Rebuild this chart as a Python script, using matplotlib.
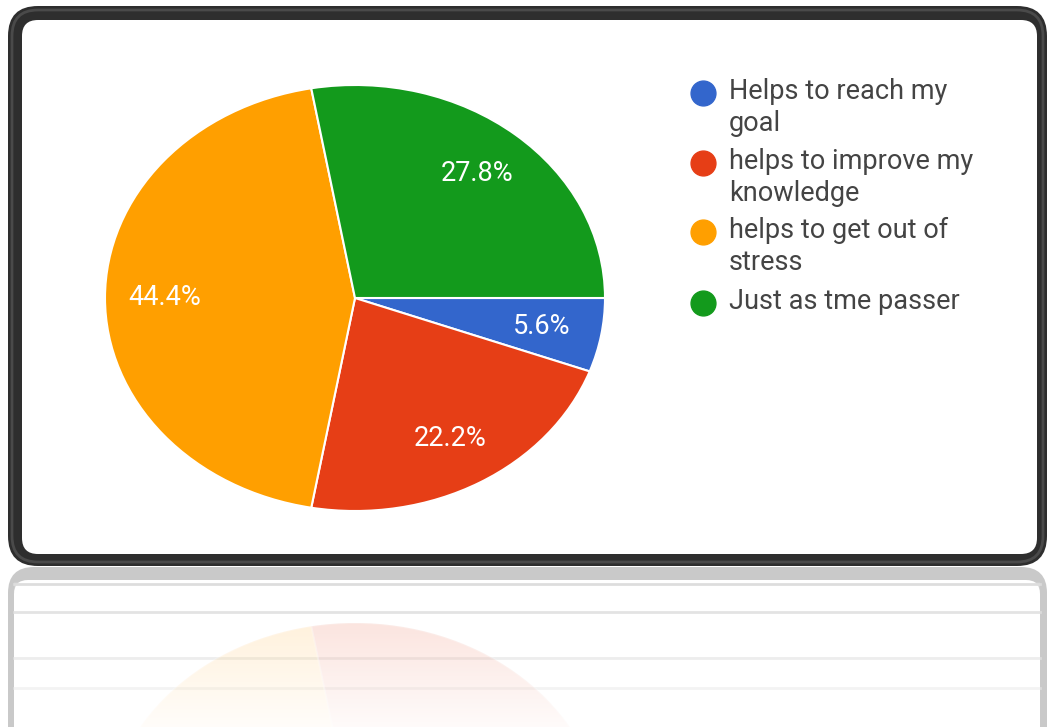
import numpy as np
import matplotlib.pyplot as plt
from matplotlib.patches import FancyBboxPatch

# survey answers (percent of respondents)
labels = ["Helps to reach my\ngoal",
          "helps to improve my\nknowledge",
          "helps to get out of\nstress",
          "Just as tme passer"]
shares = [5.6, 22.2, 44.4, 27.8]
colors = ["#3366cc", "#e63e16", "#ff9f00", "#139a1c"]

W, H = 1047, 727
fig = plt.figure(figsize=(W / 100, H / 100), dpi=100)
fig.patch.set_facecolor("white")


def px_axes(left, top, width, height, z):
    # axes placed in pixel units measured from the top-left corner
    return fig.add_axes([left / W, 1 - (top + height) / H, width / W, height / H], zorder=z)


# background layer: framed panel and its reflection
bg = px_axes(0, 0, W, H, 0)
bg.set_xlim(0, W)
bg.set_ylim(H, 0)
bg.axis("off")

# reflection of the frame
bg.add_patch(FancyBboxPatch((8, 567), 1039, 200, boxstyle="round,pad=0,rounding_size=26",
                            fc="#c9c9c9", ec="none"))
bg.add_patch(FancyBboxPatch((14, 580), 1026, 200, boxstyle="round,pad=0,rounding_size=14",
                            fc="white", ec="none"))
for y in [584, 612, 658, 688]:
    bg.plot([14, 1040], [y, y], color="#dadada", lw=2, zorder=3)

# dark frame around the chart
bg.add_patch(FancyBboxPatch((8, 6), 1039, 560, boxstyle="round,pad=0,rounding_size=30",
                            fc="#2e2e2e", ec="none"))
bg.add_patch(FancyBboxPatch((12, 10), 1031, 552, boxstyle="round,pad=0,rounding_size=26",
                            fc="none", ec="#4a4a4a", lw=2))
bg.add_patch(FancyBboxPatch((22, 20), 1015, 534, boxstyle="round,pad=0,rounding_size=16",
                            fc="white", ec="none"))

# main pie, stretched into an ellipse by the axes box
cx, cy, rx, ry = 355, 298, 250, 213
ax = px_axes(cx - rx, cy - ry, 2 * rx, 2 * ry, 1)
wedges, _, pct = ax.pie(shares, colors=colors, startangle=0, counterclock=False,
                        autopct="%.1f%%", pctdistance=0.76,
                        wedgeprops=dict(edgecolor="white", linewidth=1.5),
                        textprops=dict(color="white", fontsize=19.5, family="Roboto"))
ax.set_aspect("auto")
ax.set_xlim(-1, 1)
ax.set_ylim(-1, 1)
ax.patch.set_alpha(0)

# mirrored pie below the frame
mirror_y = 567
ref = px_axes(cx - rx, 2 * mirror_y - cy - ry, 2 * rx, 2 * ry, 1)
ref.pie(shares, colors=colors, startangle=0, counterclock=False,
        wedgeprops=dict(edgecolor="white", linewidth=1.5, alpha=0.2))
ref.set_aspect("auto")
ref.set_xlim(-1, 1)
ref.set_ylim(1, -1)
ref.patch.set_alpha(0)

# fade the reflection towards the bottom
top = px_axes(0, 0, W, H, 2)
top.set_xlim(0, W)
top.set_ylim(H, 0)
top.axis("off")
grad = np.zeros((100, 2, 4))
grad[..., :3] = 1.0
grad[..., 3] = np.linspace(0.1, 0.9, 100)[:, None]
top.imshow(grad, extent=(14, 1040, H, 582), aspect="auto", zorder=1)

# legend drawn beside the pie
ys = [93, 163, 232, 303]
for y, lab, c in zip(ys, labels, colors):
    top.scatter([703], [y], s=320, color=c, zorder=3)
    top.text(729, y - 15, lab, ha="left", va="top", fontsize=19.5, family="Roboto",
             color="#444444", linespacing=1.22, zorder=3)

fig.savefig("out.png", dpi=100)
